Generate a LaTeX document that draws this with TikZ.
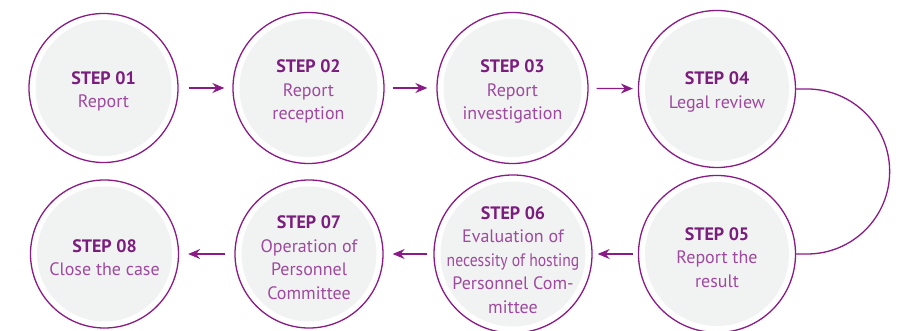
\documentclass[tikz,border=0pt]{standalone}
\usepackage{fontspec}
\usepackage{graphicx}
\setmainfont{PT Sans}
\usetikzlibrary{arrows.meta}
\definecolor{pur}{HTML}{8A1A86}
\definecolor{purtxt}{HTML}{7A1D7D}
\definecolor{purlight}{HTML}{9E4A9E}
\definecolor{grayfill}{HTML}{F1F2F2}
\tikzset{
  stepcirc/.style={circle, draw=pur, line width=1.3pt, fill=white, inner sep=0pt,
    minimum size=#1,
    path picture={\fill[grayfill] (path picture bounding box.center) circle[radius=#1/2-6.5pt];}},
  steptext/.style={align=center, text=purlight, font=\fontsize{18}{23.5}\selectfont, inner sep=0pt},
  arr/.style={draw=pur, line width=1.3pt, -{Stealth[length=12pt, width=10pt, inset=4pt]}},
  conn/.style={draw=pur, line width=1.3pt},
}
\newcommand{\stp}[1]{{\bfseries\color{purtxt}STEP #1}}
\begin{document}
\begin{tikzpicture}[x=1pt, y=1pt]
\useasboundingbox (0,0) rectangle (909,331);
% row 1
\node[stepcirc=149pt] (c1) at (103.5,243) {};
\node[stepcirc=151pt] (c2) at (308.5,243) {};
\node[stepcirc=151pt] (c3) at (512.5,243) {};
\node[stepcirc=157pt] (c4) at (717,242) {};
% row 2
\node[stepcirc=157pt] (c5) at (717,77) {};
\node[stepcirc=158pt] (c6) at (513,77) {};
\node[stepcirc=148pt] (c7) at (309,77) {};
\node[stepcirc=148pt] (c8) at (104.5,77) {};
% texts
\node[steptext] (t1) at ([yshift=-3.5pt]c1.center) {\stp{01}\\Report};
\node[steptext] (t2) at ([yshift=-3.5pt]c2.center) {\stp{02}\\Report\\reception};
\node[steptext] (t3) at ([yshift=-3.5pt]c3.center) {\stp{03}\\Report\\investigation};
\node[steptext] (t4) at ([yshift=-3pt]c4.center) {\stp{04}\\Legal review};
\node[steptext] (t5) at ([yshift=-3.5pt]c5.center) {\stp{05}\\Report the\\result};
\node[steptext] (t6) at ([yshift=-6pt]c6.center) {\stp{06}\\Evaluation of\\\scalebox{0.87}[1]{necessity of hosting}\\Personnel Com-\\mittee};
\node[steptext] (t7) at ([yshift=-3.5pt]c7.center) {\stp{07}\\Operation of\\Personnel\\Committee};
\node[steptext] (t8) at ([yshift=-3.5pt]c8.center) {\stp{08}\\Close the case};
% arrows
\draw[arr, shorten <=10pt, shorten >=8pt] (c1) -- (c2);
\draw[arr, shorten <=8pt, shorten >=9pt] (c2) -- (c3);
\draw[arr, shorten <=8pt, shorten >=5pt] (c3) -- (c4);
\draw[conn] (c4.east) -- ++(11,0) arc[start angle=90, end angle=-90, radius=82.5] -- (c5.east);
\draw[arr, shorten <=5pt, shorten >=5pt] (c5) -- (c6);
\draw[arr, shorten <=6pt, shorten >=9pt] (c6) -- (c7);
\draw[arr, shorten <=9pt, shorten >=9pt] (c7) -- (c8);
\end{tikzpicture}
\end{document}
